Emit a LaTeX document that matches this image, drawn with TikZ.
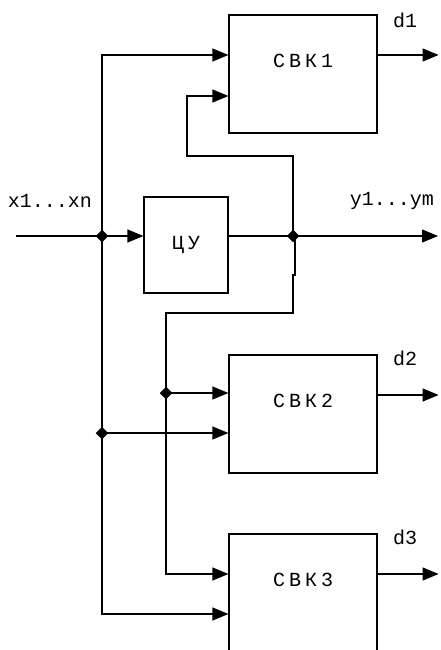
\documentclass[tikz,border=0pt]{standalone}
\usepackage{fontspec}
\setmainfont{Liberation Mono}
\newfontfamily\spacedfont[LetterSpace=20]{Liberation Mono}
\usetikzlibrary{arrows.meta,shapes.geometric}

\begin{document}
\begin{tikzpicture}[
  x=1pt, y=-1pt,
  line width=1.2pt,
  line join=miter,
  every node/.style={font=\fontsize{20}{24}\selectfont},
  box/.style={draw, minimum width=148pt, minimum height=118pt, inner sep=0pt},
  boxlbl/.style={font=\spacedfont\fontsize{20}{24}\selectfont, inner sep=0pt},
  junc/.style={diamond, fill, inner sep=0pt, minimum size=13pt},
  arr/.style={-{Triangle[length=16pt,width=13pt]}}
]

% Page: 440 x 650, lower edge cuts the last block
\useasboundingbox (0,0) rectangle (440,650);
\clip (0,0) rectangle (440,650);

% --- blocks ---
\node[box] (s1) at (303,74) {};
\node[boxlbl] (t1) at ([yshift=-47pt]s1.north) {СВК1};

\node[box, minimum width=84pt, minimum height=96pt] (cu) at (186,245) {};
\node[boxlbl] (tcu) at (cu) {ЦУ};

\node[box] (s2) at (303,414) {};
\node[boxlbl] (t2) at ([yshift=-47pt]s2.north) {СВК2};

\node[box] (s3) at (303,593) {};
\node[boxlbl] (t3) at ([yshift=-47pt]s3.north) {СВК3};

% --- branch points ---
\node[junc] (j1) at (102,236) {};
\node[junc] (j2) at (293,236) {};
\node[junc] (j3) at (102,433) {};
\node[junc] (j4) at (166,393) {};

% --- labels ---
\node (lx) at (50,201) {x1...xn};
\node (ly) at (392,201) {y1...ym};
\node (ld1) at (405,20) {d1};
\node (ld2) at (405,358) {d2};
\node (ld3) at (405,537) {d3};

% input x1...xn into the control unit
\coordinate (xin) at (16,236);
\draw (xin) -- (j1.center);
\draw[arr] (j1.center) -- (cu.west |- j1);

% output y1...ym
\coordinate (yout) at (438,236);
\draw (cu.east |- j2) -- (j2.center);
\draw[arr] (j2.center) -- (yout);

% input bus to the three checking blocks
\draw[arr] (j1.center) |- ([yshift=19pt]s1.west);
\draw (j1.center) -- (j3.center);
\draw[arr] (j3.center) -- (s2.west |- j3);
\draw[arr] (j3.center) |- ([yshift=-21pt]s3.west);

% output bus back to the checking blocks
\draw[arr] (j2.center) |- ++(-106,-80) |- ([yshift=-22pt]s1.west);
\draw (j2.center) ++(2,0) -- ++(0,39) -- ++(-2,0) -- ++(0,38) -| (j4.center);
\draw[arr] (j4.center) -- (s2.west |- j4);
\draw[arr] (j4.center) |- ([yshift=19pt]s3.west);

% results d1, d2, d3
\draw[arr] ([yshift=19pt]s1.east) -- ++(61,0);
\draw[arr] ([yshift=19pt]s2.east) -- ++(61,0);
\draw[arr] ([yshift=19pt]s3.east) -- ++(61,0);

\end{tikzpicture}
\end{document}
